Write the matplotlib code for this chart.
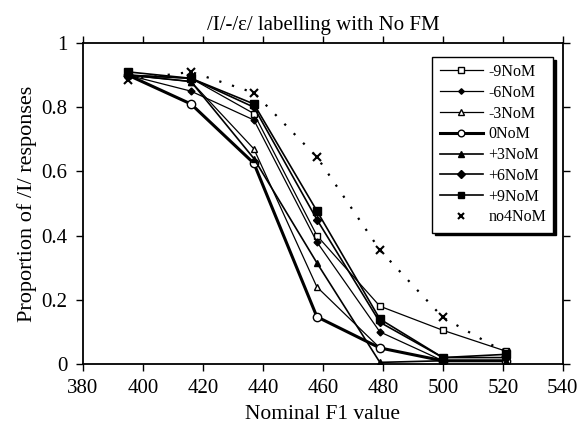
import matplotlib
matplotlib.use("Agg")
import matplotlib.pyplot as plt
from matplotlib.ticker import FuncFormatter

plt.rcParams['font.family'] = ['Liberation Serif', 'DejaVu Serif']

f1 = [395, 416, 437, 458, 479, 500, 521]
series_names = ['-9NoM', '-6NoM', '-3NoM', '0NoM', '+3NoM', '+6NoM', '+9NoM', 'no4NoM']
m9 = [0.90, 0.89, 0.78, 0.40, 0.18, 0.105, 0.04]
m6 = [0.90, 0.85, 0.76, 0.38, 0.10, 0.01, 0.01]
m3 = [0.90, 0.88, 0.67, 0.24, 0.05, 0.01, 0.01]
z0 = [0.90, 0.81, 0.625, 0.147, 0.05, 0.01, 0.01]
p3 = [0.90, 0.88, 0.64, 0.315, 0.005, 0.01, 0.01]
p6 = [0.90, 0.89, 0.80, 0.45, 0.13, 0.02, 0.02]
p9 = [0.91, 0.89, 0.81, 0.477, 0.14, 0.02, 0.03]
no4 = [0.885, 0.91, 0.845, 0.645, 0.355, 0.145, 0.035]

fig = plt.figure(figsize=(5.82, 4.33), dpi=100)
ax = fig.add_axes([0.1426, 0.1594, 0.967 - 0.1426, 0.9007 - 0.1594])

k = dict(color='black')
ax.plot(f1, m9, marker='s', mfc='white', ms=5, lw=0.9, label=series_names[0], **k)
ax.plot(f1, m6, marker='D', mfc='black', ms=3.5, lw=0.9, label=series_names[1], **k)
ax.plot(f1, m3, marker='^', mfc='white', ms=5, lw=0.9, label=series_names[2], **k)
ax.plot(f1, z0, marker='o', mfc='white', ms=6, lw=2.2, label=series_names[3], **k)
ax.plot(f1, p3, marker='^', mfc='black', ms=5, lw=1.2, label=series_names[4], **k)
ax.plot(f1, p6, marker='D', mfc='black', ms=4.5, lw=1.2, label=series_names[5], **k)
ax.plot(f1, p9, marker='s', mfc='black', ms=6, lw=1.2, label=series_names[6], **k)
ax.plot(f1, no4, ls=(0, (1, 5)), lw=1.6, color='black')
ax.plot(f1, no4, ls='none', marker='x', ms=6, mew=1.5, label=series_names[7], **k)

ax.set_xlim(380, 540)
ax.set_ylim(0, 1)
ax.set_xticks(range(380, 541, 20))
ax.set_yticks([0, 0.2, 0.4, 0.6, 0.8, 1])
ax.yaxis.set_major_formatter(FuncFormatter(lambda v, p: '%g' % v))
ax.tick_params(direction='out', length=5, width=1, labelsize=15, top=True, right=True, pad=6)
for s in ax.spines.values():
    s.set_linewidth(1.3)

ax.set_xlabel('Nominal F1 value', fontsize=15.5, labelpad=5)
ax.set_ylabel('Proportion of /I/ responses', fontsize=16, labelpad=3)
ax.set_title('/I/-/ε/ labelling with No FM', fontsize=15, pad=9)

leg = ax.legend(loc='upper right', bbox_to_anchor=(0.997, 0.982), fontsize=11.5,
                frameon=True, fancybox=False, edgecolor='black', framealpha=1,
                shadow={'color': 'black', 'alpha': 1}, handlelength=2.7,
                labelspacing=0.3, borderpad=0.45, handletextpad=0.35,
                markerscale=0.8)
leg.get_frame().set_linewidth(1.0)

fig.savefig('out.png', dpi=100)
